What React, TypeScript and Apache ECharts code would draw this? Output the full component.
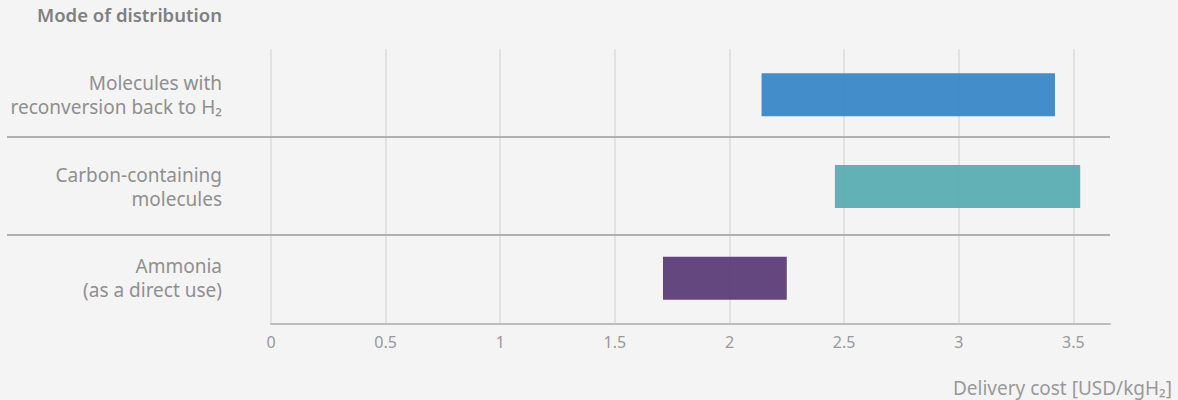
import React, { useEffect, useRef } from "react";
import * as echarts from "echarts";

const categories = [
  "Molecules with\nreconversion back to H₂",
  "Carbon-containing\nmolecules",
  "Ammonia\n(as a direct use)",
];
const rangeStart = [2.14, 2.46, 1.71];
const rangeEnd = [3.42, 3.53, 2.25];
const barColors = ["#3b88c9", "#5caeb3", "#5f3f7b"];
const tickValues = [0, 0.5, 1, 1.5, 2, 2.5, 3, 3.5];
const titleText = "Mode of distribution";
const axisTitle = "Delivery cost [USD/kgH₂]";

const FONT = "'Noto Sans', sans-serif";

export default function App() {
  const ref = useRef<HTMLDivElement>(null);
  useEffect(() => {
    if (!ref.current) return;
    const chart = echarts.init(ref.current, null, { renderer: "svg" });
    const option: any = {
      animation: false,
      backgroundColor: "#f4f4f4",
      textStyle: { fontFamily: FONT },
      grid: { left: 271, right: 68, top: 49, bottom: 76 },
      xAxis: {
        type: "value",
        min: 0,
        max: 3.66,
        interval: 0.5,
        axisLine: { show: true, lineStyle: { color: "#bdbdbd", width: 2 } },
        axisTick: { show: false },
        splitLine: { show: false },
        axisLabel: {
          color: "#999999",
          fontSize: 16,
          fontFamily: FONT,
          margin: 10,
          formatter: (v: number) =>
            tickValues.some((t) => Math.abs(t - v) < 1e-6) ? String(v) : "",
        },
      },
      yAxis: {
        type: "category",
        data: categories,
        inverse: true,
        axisLine: { show: false },
        axisTick: { show: false },
        splitLine: { show: false },
        axisLabel: {
          color: "#8f8f8f",
          fontSize: 19,
          lineHeight: 24,
          fontFamily: FONT,
          margin: 49,
          align: "right",
        },
      },
      series: [
        {
          type: "bar",
          stack: "range",
          data: rangeStart,
          barWidth: 43,
          itemStyle: { color: "transparent" },
          silent: true,
          z: 1,
          markLine: {
            silent: true,
            z: 0,
            symbol: ["none", "none"],
            label: { show: false },
            lineStyle: { color: "#dcdcdc", width: 1.5, type: "solid" },
            data: tickValues.map((t) => ({ xAxis: t })),
          },
        },
        {
          type: "bar",
          stack: "range",
          barWidth: 43,
          z: 3,
          data: rangeEnd.map((e, i) => ({
            value: +(e - rangeStart[i]).toFixed(2),
            itemStyle: { color: barColors[i], opacity: 0.96 },
          })),
        },
      ],
      graphic: [
        {
          type: "text",
          left: 37,
          top: 5,
          style: {
            text: titleText,
            fill: "#808080",
            font: `600 18.5px ${FONT}`,
          },
        },
        {
          type: "line",
          shape: { x1: 7, y1: 137, x2: 1110, y2: 137 },
          style: { stroke: "#b0b0b0", lineWidth: 2 },
          z: 10,
        },
        {
          type: "line",
          shape: { x1: 7, y1: 235, x2: 1110, y2: 235 },
          style: { stroke: "#b0b0b0", lineWidth: 2 },
          z: 10,
        },
        {
          type: "text",
          x: 1172,
          y: 388,
          style: {
            text: axisTitle,
            fill: "#999999",
            font: `19px ${FONT}`,
            textAlign: "right",
            textVerticalAlign: "middle",
          },
        },
      ],
    };
    chart.setOption(option);
    return () => chart.dispose();
  }, []);
  return (
    <div
      ref={ref}
      style={{ position: "absolute", left: 0, top: 0, width: 1178, height: 400 }}
    />
  );
}
